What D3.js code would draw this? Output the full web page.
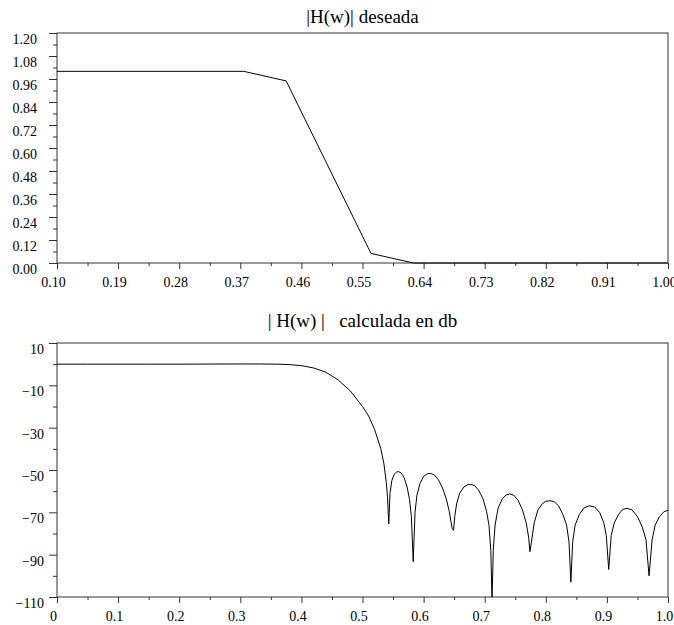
<!DOCTYPE html>
<html>
<head>
<meta charset="utf-8">
<script src="https://cdn.jsdelivr.net/npm/d3@7"></script>
<style>
  body { margin: 0; background: #fff; }
  svg { display: block; }
</style>
</head>
<body>
<svg id="chart" width="674" height="625" font-family="Liberation Serif, Times New Roman, serif"></svg>
<script>
// desired response (top)
var desiredFreq = [0.10, 0.375, 0.4375, 0.5625, 0.625, 1.00];
var desiredMag  = [1.00, 1.00, 0.95, 0.05, 0.00, 0.00];
var topXTicks = [0.10, 0.19, 0.28, 0.37, 0.46, 0.55, 0.64, 0.73, 0.82, 0.91, 1.00];
var topYTicks = [0.00, 0.12, 0.24, 0.36, 0.48, 0.60, 0.72, 0.84, 0.96, 1.08, 1.20];

// computed response in dB (bottom)
var calcFreq = [
  0.000, 0.050, 0.100, 0.150, 0.200, 0.250, 0.300, 0.330, 0.360, 0.380,
  0.400, 0.420, 0.440, 0.460, 0.480, 0.500, 0.510, 0.520, 0.530, 0.535,
  0.539, 0.541, 0.543, 0.545, 0.548, 0.552, 0.556, 0.559, 0.563, 0.568,
  0.573, 0.577, 0.580, 0.583, 0.586, 0.589, 0.594, 0.600, 0.606, 0.611,
  0.617, 0.624, 0.631, 0.637, 0.642, 0.646, 0.647, 0.649, 0.651, 0.654,
  0.659, 0.666, 0.672, 0.677, 0.683, 0.690, 0.697, 0.703, 0.707, 0.710,
  0.712, 0.714, 0.717, 0.722, 0.729, 0.735, 0.741, 0.748, 0.755, 0.762,
  0.768, 0.772, 0.774, 0.777, 0.781, 0.787, 0.794, 0.800, 0.807, 0.814,
  0.821, 0.828, 0.834, 0.838, 0.841, 0.844, 0.848, 0.855, 0.862, 0.871,
  0.880, 0.888, 0.895, 0.899, 0.903, 0.907, 0.912, 0.919, 0.926, 0.933,
  0.941, 0.950, 0.958, 0.964, 0.969, 0.974, 0.979, 0.986, 0.993, 1.000
];
var calcDb = [
  0.0, 0.0, 0.0, 0.0, 0.0, 0.05, 0.1, 0.1, 0.0, -0.2,
  -0.7, -1.8, -3.8, -7.4, -12.6, -20.0, -24.5, -31.0, -40.0, -47.0,
  -56.0, -63.0, -75.5, -61.0, -55.0, -52.0, -50.9, -50.8, -51.3, -53.5,
  -58.0, -64.0, -72.0, -93.3, -70.0, -62.0, -56.5, -53.0, -51.8, -51.6,
  -52.2, -54.5, -58.5, -63.5, -69.5, -76.5, -77.8, -78.5, -72.0, -66.0,
  -61.0, -58.0, -57.0, -56.8, -57.3, -59.5, -63.5, -69.5, -76.0, -88.0,
  -112.0, -88.0, -76.0, -68.0, -63.5, -61.8, -61.3, -62.0, -64.5, -69.0,
  -75.0, -82.0, -88.6, -83.0, -75.0, -69.0, -66.0, -64.8, -64.5, -65.0,
  -67.0, -71.0, -76.0, -84.0, -103.0, -84.0, -76.0, -71.0, -68.0, -66.9,
  -67.5, -70.0, -75.0, -81.0, -97.0, -81.0, -75.0, -71.0, -68.6, -68.1,
  -68.8, -72.0, -77.0, -83.0, -100.0, -83.0, -76.0, -72.0, -69.8, -69.0
];
var botXTicks = [0, 0.1, 0.2, 0.3, 0.4, 0.5, 0.6, 0.7, 0.8, 0.9, 1.0];
var botYTicks = [10, -10, -30, -50, -70, -90, -110];

var svg = d3.select("#chart");
var left = 57, right = 668;
var AXIS_COLOR = "#333";
var FONT = "Liberation Serif, Times New Roman, serif";

function midpoints(ticks) {
    var out = [];
    for (var i = 0; i < ticks.length - 1; i++)
        out.push((ticks[i] + ticks[i + 1]) / 2);
    return out;
}

function styleAxis(g) {
    g.attr("font-family", FONT).attr("font-size", 14);
    g.select(".domain").remove();
    g.selectAll("line").attr("stroke", AXIS_COLOR);
    g.selectAll("text").attr("fill", "#000");
}

/**
 * draw one framed panel: frame, major/minor ticks, labels, title
 */
function drawPanel(opt) {
    var x = opt.x, y = opt.y;
    var top = y.range()[1], bottom = y.range()[0];
    var g = svg.append("g");

    // minor ticks
    g.append("g")
      .attr("transform", "translate(0," + bottom + ")")
      .call(d3.axisBottom(x).tickValues(midpoints(opt.xTicks)).tickSize(3).tickFormat(""))
      .call(styleAxis);
    g.append("g")
      .attr("transform", "translate(" + left + ",0)")
      .call(d3.axisLeft(y).tickValues(opt.yMinor).tickSize(4).tickFormat(""))
      .call(styleAxis);

    // major ticks
    g.append("g")
      .attr("transform", "translate(0," + bottom + ")")
      .call(d3.axisBottom(x).tickValues(opt.xTicks).tickSize(6).tickPadding(8).tickFormat(opt.xFormat))
      .call(styleAxis)
      .call(function(a) { a.selectAll("text").attr("x", -4); });
    g.append("g")
      .attr("transform", "translate(" + left + ",0)")
      .call(d3.axisLeft(y).tickValues(opt.yTicks).tickSize(8).tickPadding(opt.yPad).tickFormat(opt.yFormat))
      .call(styleAxis)
      .call(function(a) { a.selectAll("text").attr("y", 6); });

    // frame
    g.append("rect")
      .attr("x", left).attr("y", top)
      .attr("width", right - left).attr("height", bottom - top)
      .attr("fill", "none")
      .attr("stroke", AXIS_COLOR)
      .attr("stroke-width", 1);

    // title
    g.append("text")
      .attr("x", (left + right) / 2)
      .attr("y", opt.titleY)
      .attr("text-anchor", "middle")
      .attr("font-family", FONT)
      .attr("font-size", 19)
      .attr("xml:space", "preserve")
      .style("white-space", "pre")
      .text(opt.title);
    return g;
}

// ---- top panel
var xTop = d3.scaleLinear().domain([0.10, 1.00]).range([left, right]);
var yTop = d3.scaleLinear().domain([0, 1.20]).range([263, 33]);
drawPanel({
    x: xTop, y: yTop,
    xTicks: topXTicks, yTicks: topYTicks,
    yMinor: midpoints(topYTicks),
    xFormat: d3.format(".2f"), yFormat: d3.format(".2f"),
    yPad: 12,
    title: "|H(w)| deseada", titleY: 23
});

var topLine = d3.line()
    .x(function(d) { return xTop(d[0]); })
    .y(function(d) { return yTop(d[1]); });
svg.append("path")
   .datum(d3.zip(desiredFreq, desiredMag))
   .attr("d", topLine)
   .attr("fill", "none")
   .attr("stroke", "#000")
   .attr("stroke-width", 1);

// ---- bottom panel
var xBot = d3.scaleLinear().domain([0, 1]).range([left, right]);
var yBot = d3.scaleLinear().domain([-110, 10]).range([597, 343]);
drawPanel({
    x: xBot, y: yBot,
    xTicks: botXTicks, yTicks: botYTicks,
    yMinor: midpoints(botYTicks),
    xFormat: function(d) { return d === 0 ? "0" : d3.format(".1f")(d); },
    yFormat: function(d) { return d3.format("d")(d); },
    yPad: 5,
    title: "| H(w) |   calculada en db", titleY: 327
});

svg.append("clipPath").attr("id", "clipBot")
   .append("rect")
   .attr("x", left).attr("y", 343)
   .attr("width", right - left).attr("height", 597 - 343);

var botLine = d3.line()
    .x(function(d) { return xBot(d[0]); })
    .y(function(d) { return yBot(d[1]); });
svg.append("path")
   .datum(d3.zip(calcFreq, calcDb))
   .attr("clip-path", "url(#clipBot)")
   .attr("d", botLine)
   .attr("fill", "none")
   .attr("stroke", "#000")
   .attr("stroke-width", 1);
</script>
</body>
</html>
